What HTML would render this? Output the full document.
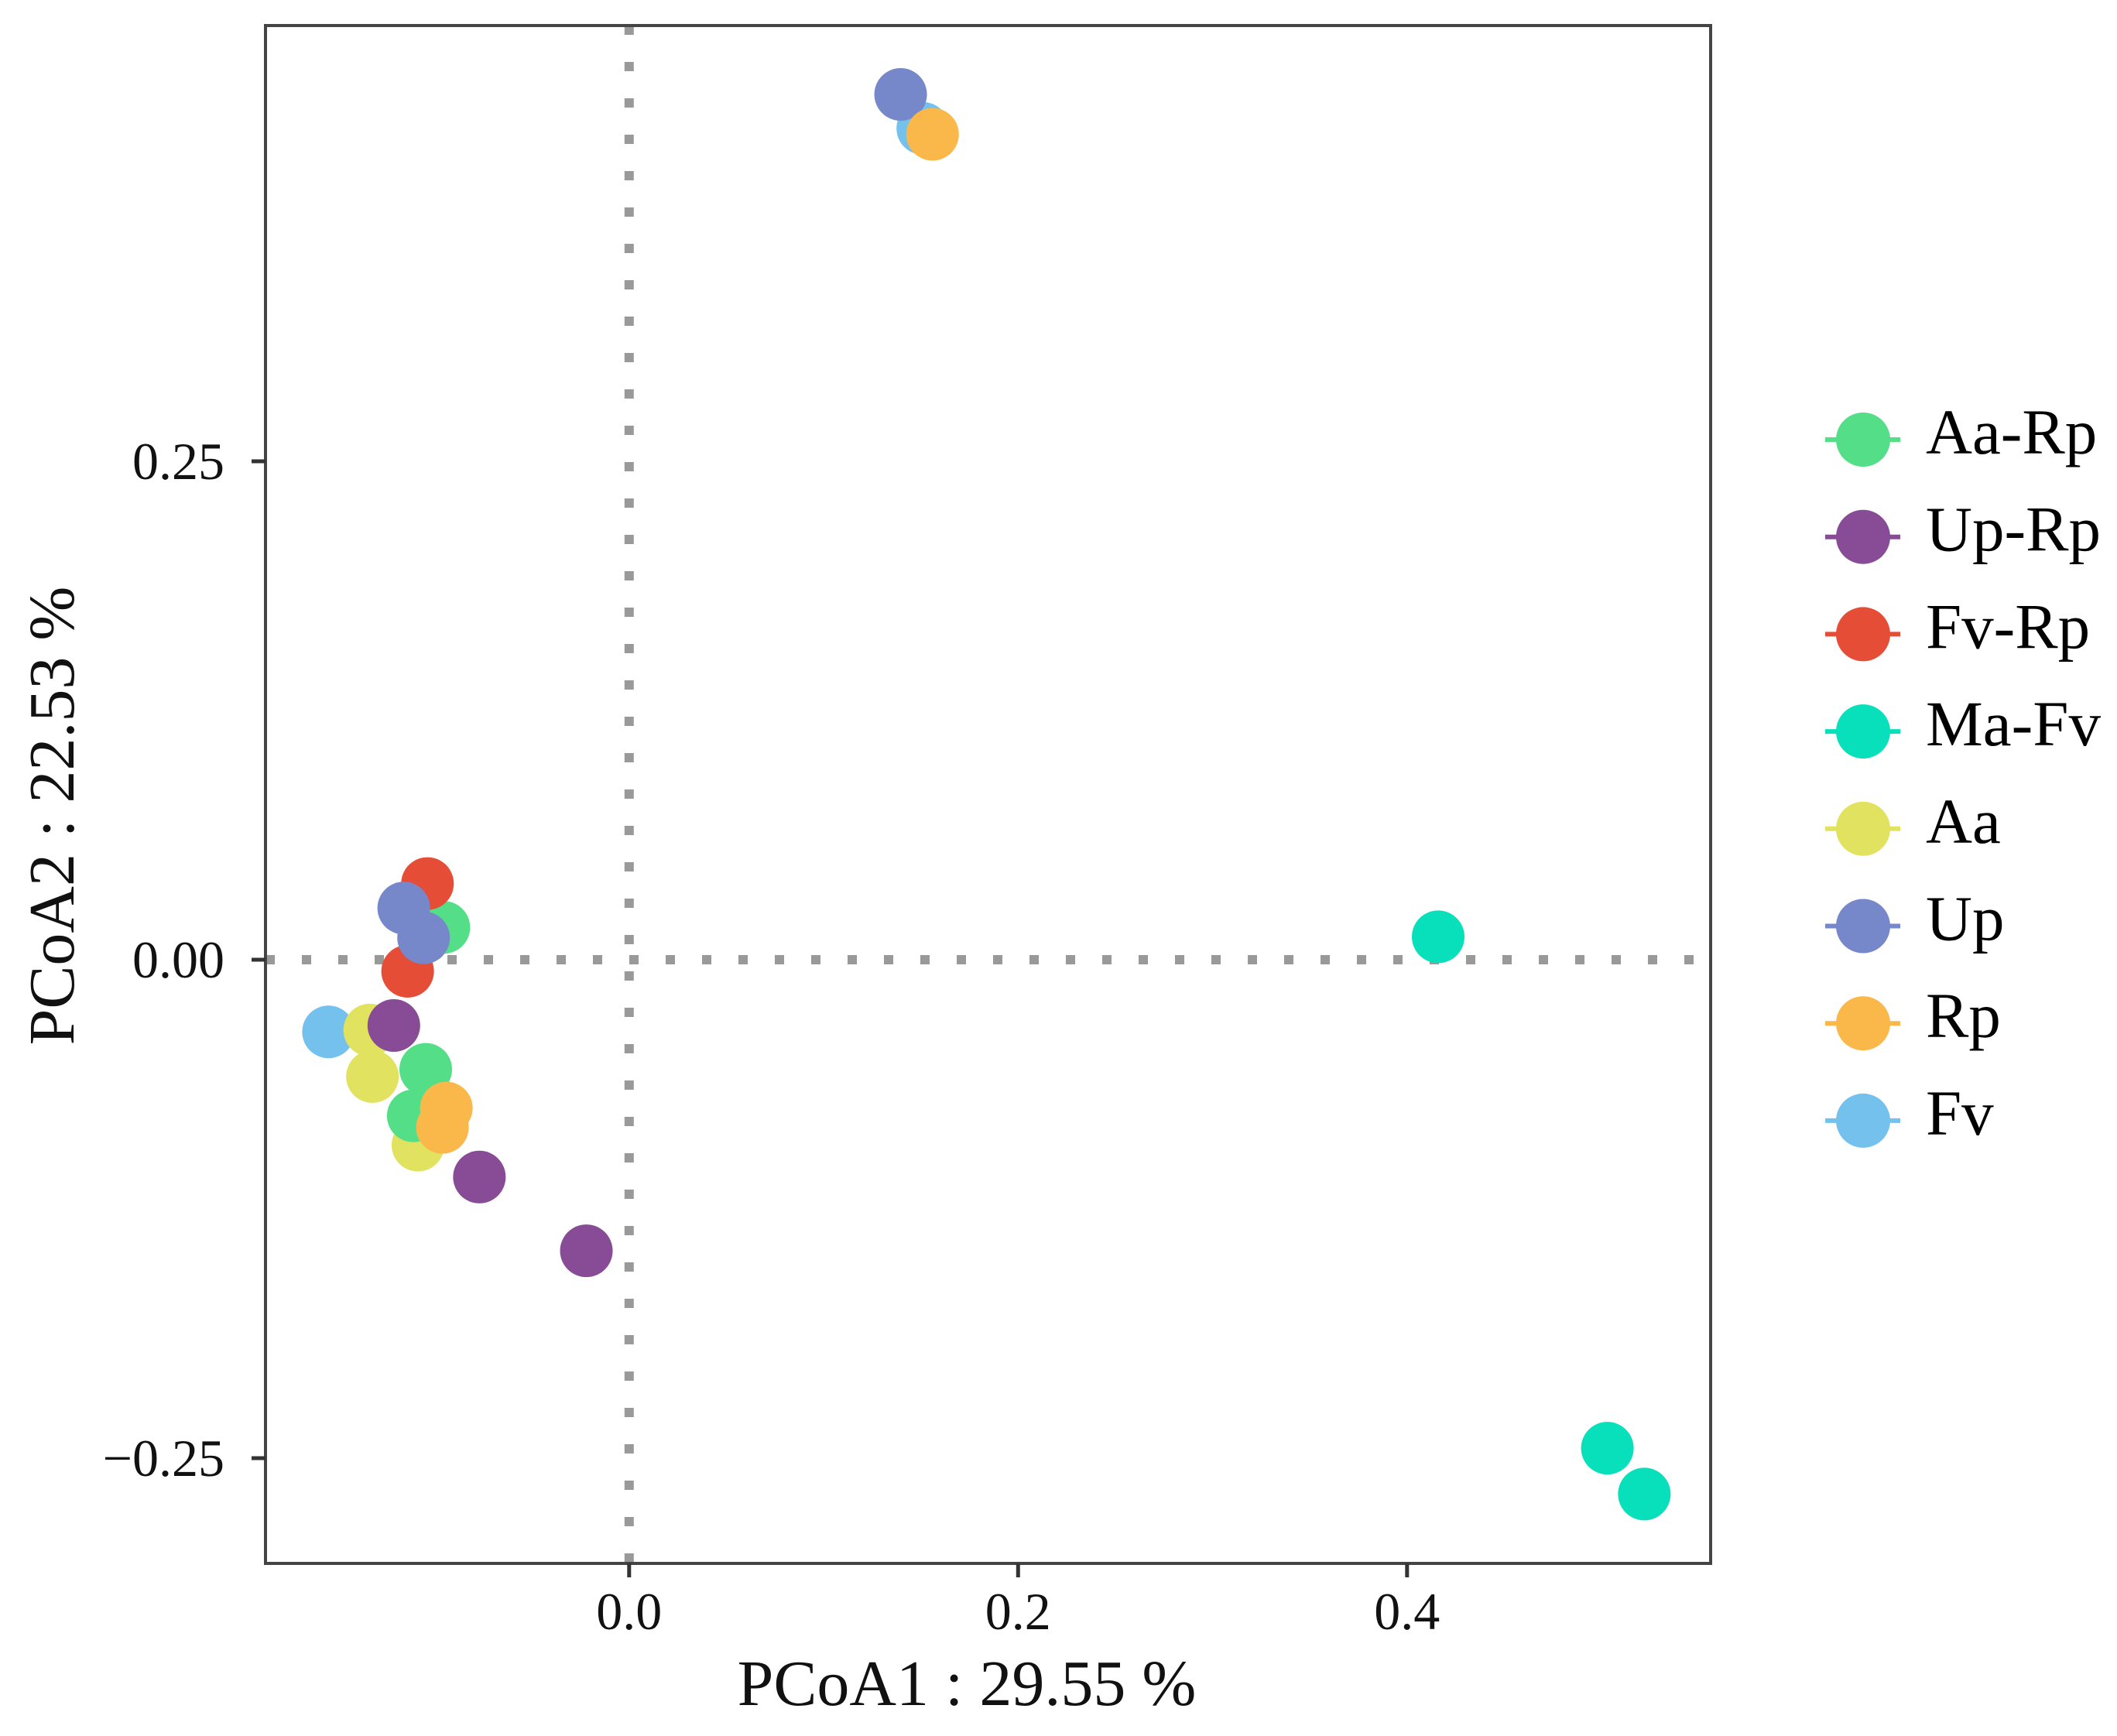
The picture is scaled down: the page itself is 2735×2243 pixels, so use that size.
<!DOCTYPE html>
<html><head><meta charset="utf-8"><style>
html,body{margin:0;padding:0;background:#fff;}
svg{display:block;font-family:"Liberation Serif",serif;}
</style></head><body>
<svg id="chart" width="2735" height="2243" viewBox="0 0 2735 2243">
<g id="plot"></g>
</svg>
<script>
const groups = ["Aa-Rp","Up-Rp","Fv-Rp","Ma-Fv","Aa","Up","Rp","Fv"];
const colors = ["#55DE88","#884C96","#E54D37","#07E0BB","#E1E25F","#7788CA","#FBB84A","#74C1EE"];
const ptGroup = ["Fv","Fv","Aa","Aa","Aa","Aa-Rp","Aa-Rp","Aa-Rp","Fv-Rp","Fv-Rp","Up","Up","Up","Up-Rp","Up-Rp","Up-Rp","Rp","Rp","Rp","Ma-Fv","Ma-Fv","Ma-Fv"];
const ptX = [0.151,-0.1546,-0.1334,-0.132,-0.1086,-0.0953,-0.1046,-0.111,-0.1037,-0.1139,0.1396,-0.1159,-0.1057,-0.121,-0.077,-0.022,0.156,-0.094,-0.096,0.416,0.503,0.522];
const ptY = [0.417,-0.0362,-0.0353,-0.0586,-0.093,0.0162,-0.055,-0.0783,0.0382,-0.0058,0.434,0.0259,0.011,-0.033,-0.109,-0.146,0.414,-0.0744,-0.0841,0.0115,-0.245,-0.268];
const xTicks = [0.0,0.2,0.4];
const xTickLabels = ["0.0","0.2","0.4"];
const yTicks = [-0.25,0,0.25];
const yTickLabels = ["\u22120.25","0.00","0.25"];

const NS="http://www.w3.org/2000/svg";
const g=document.getElementById('plot');
const L=343,R=2210,T=33,B=2020;
function sx(v){return 812.8+v*2512.5;}
function sy(v){return 1240-v*2576;}
function el(tag,attrs,parent){const e=document.createElementNS(NS,tag);for(const k in attrs)e.setAttribute(k,attrs[k]);(parent||g).appendChild(e);return e;}

let zl=el('line',{x1:L,x2:R,y1:sy(0),y2:sy(0),stroke:'#999','stroke-width':12,'stroke-dasharray':'12 35'});


zl=el('line',{x1:sx(0),x2:sx(0),y1:T,y2:B,stroke:'#999','stroke-width':12,'stroke-dasharray':'12 35'});



for(let i=0;i<ptX.length;i++){
  const c=el('circle',{cx:sx(ptX[i]),cy:sy(ptY[i]),r:34,fill:colors[groups.indexOf(ptGroup[i])]});
  
  
}
let fr=el('rect',{x:L,y:T,width:R-L,height:B-T,fill:'none',stroke:'#444','stroke-width':4});



for(let i=0;i<xTicks.length;i++){
  const x=sx(xTicks[i]);
  const t=el('line',{x1:x,x2:x,y1:B,y2:B+18,stroke:'#333','stroke-width':5});
  
  
  const tx=el('text',{x:x,y:2105,'font-size':68,'text-anchor':'middle',fill:'#111'});
  tx.textContent=xTickLabels[i];
  
  
}
for(let i=0;i<yTicks.length;i++){
  const y=sy(yTicks[i]);
  const t=el('line',{x1:L-18,x2:L,y1:y,y2:y,stroke:'#333','stroke-width':5});
  
  
  const tx=el('text',{x:290,y:y+23,'font-size':68,'text-anchor':'end',fill:'#111'});
  tx.textContent=yTickLabels[i];
  
  
}
let xt=el('text',{x:1249,y:2203,'font-size':84,'text-anchor':'middle',fill:'#111'});
xt.textContent='PCoA1 : 29.55 %';


let yt=el('text',{x:0,y:0,'font-size':84,'text-anchor':'middle',fill:'#111',transform:'translate(95,1054) rotate(-90)'});
yt.textContent='PCoA2 : 22.53 %';



for(let i=0;i<groups.length;i++){
  const cy=568+i*125.7;
  const lg=el('g',{});
  
  
  el('line',{x1:2358,x2:2455,y1:cy,y2:cy,stroke:colors[i],'stroke-width':6},lg);
  el('circle',{cx:2407,cy:cy,r:35,fill:colors[i]},lg);
  const t=el('text',{x:2488,y:cy+18,'font-size':83,fill:'#000'},lg);
  t.textContent=groups[i];
}
</script>
</body></html>
